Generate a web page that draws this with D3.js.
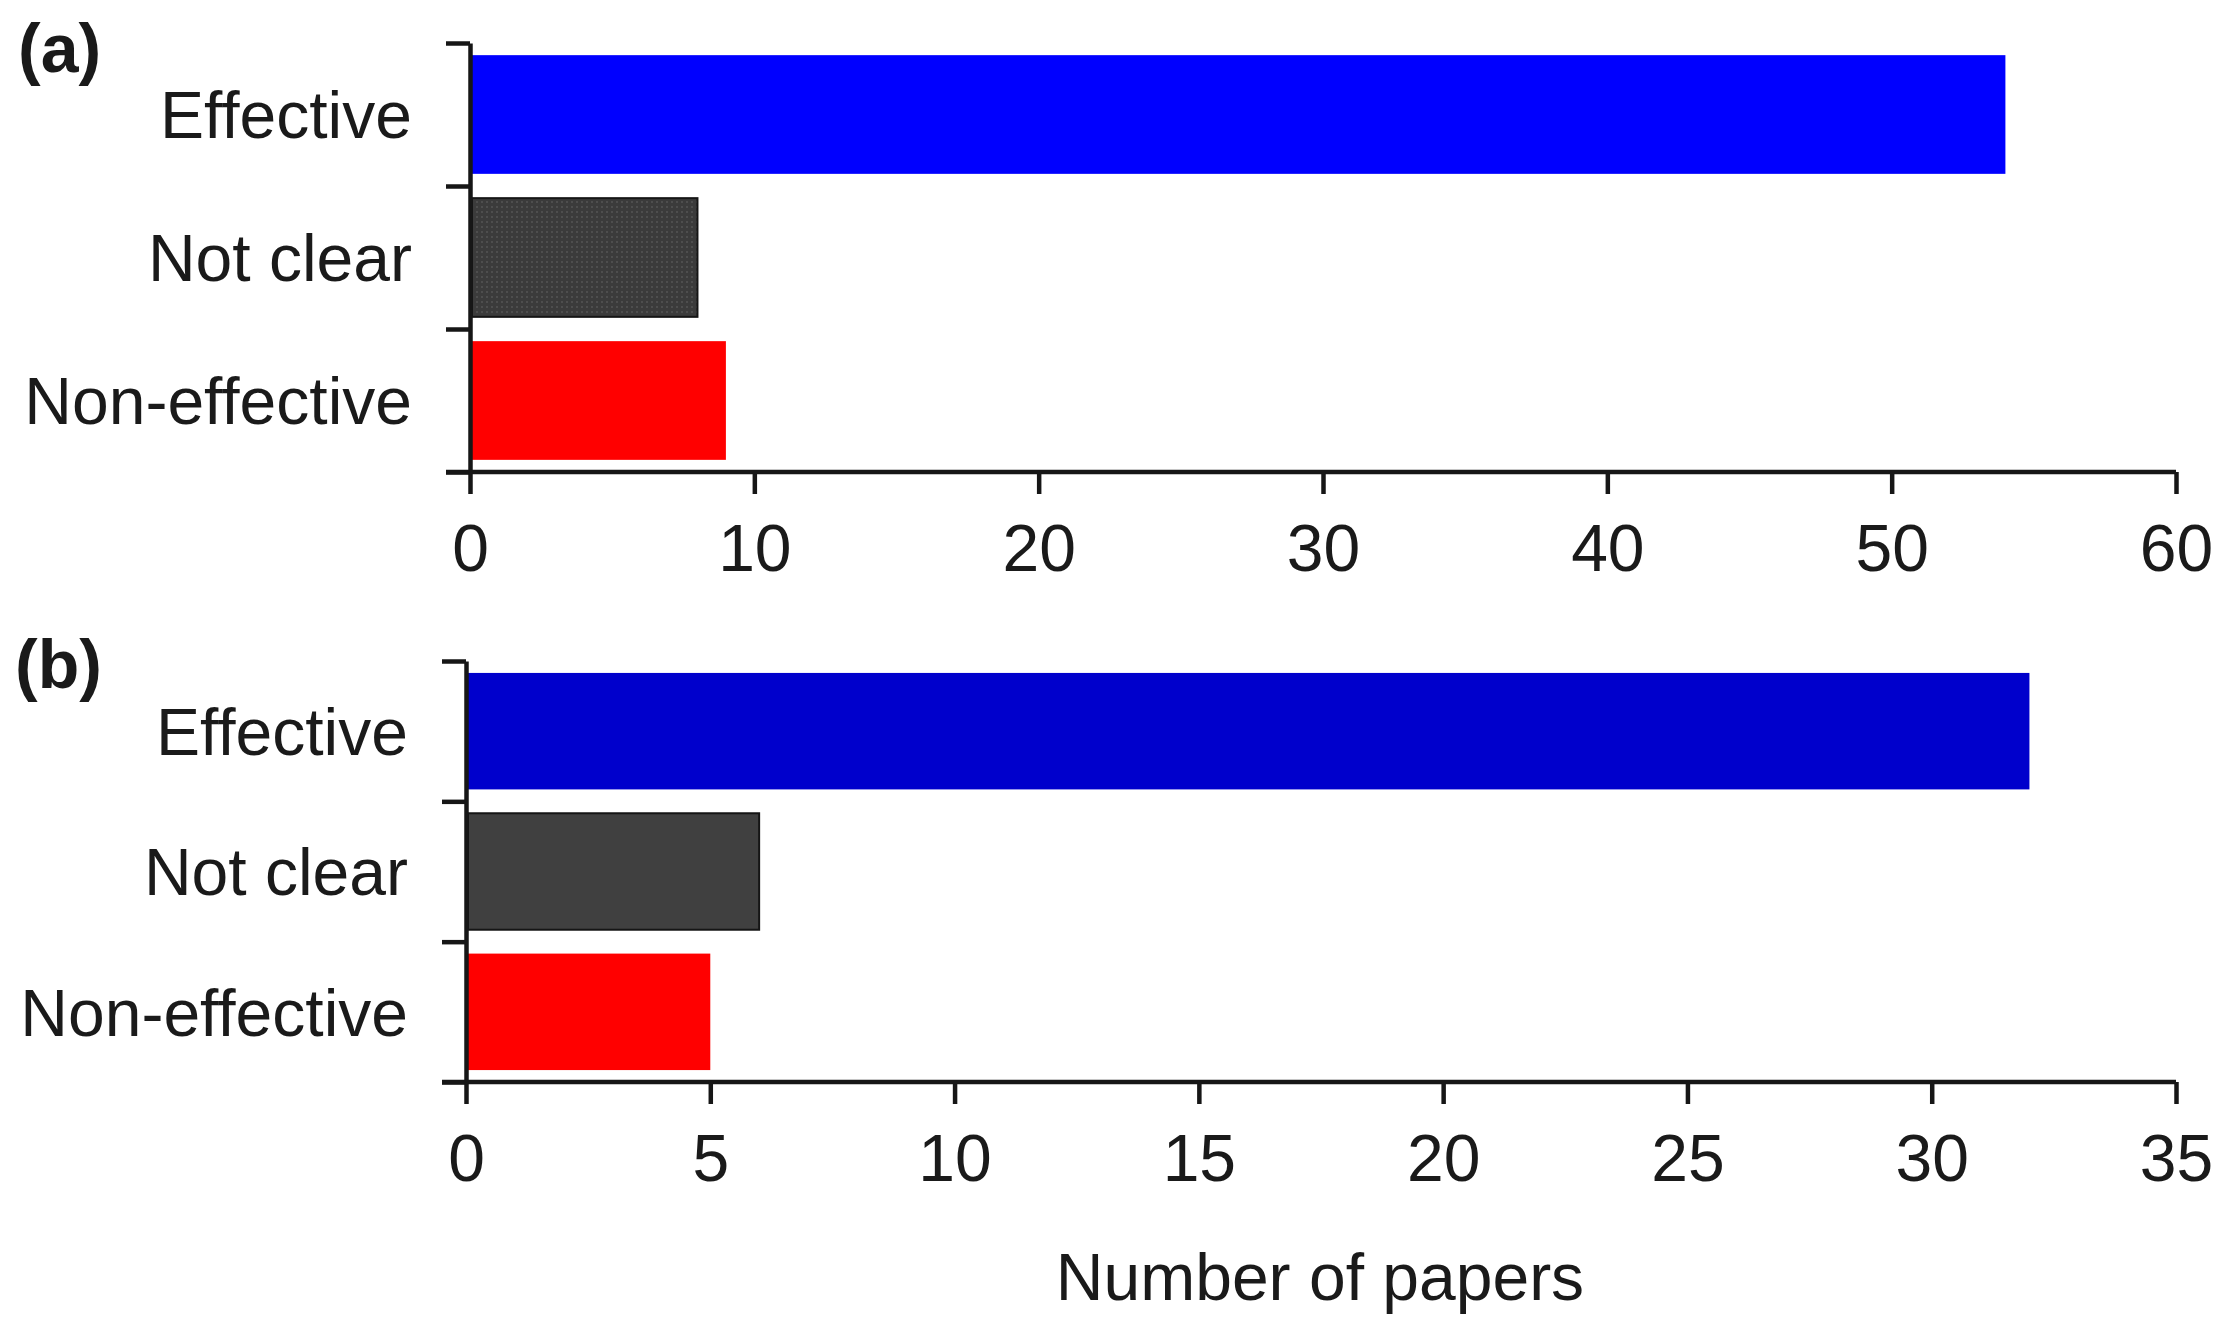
<!DOCTYPE html>
<html>
<head>
<meta charset="utf-8">
<script src="https://cdn.jsdelivr.net/npm/d3@7"></script>
<style>
  html, body { margin: 0; padding: 0; background: #ffffff; }
  svg text { font-family: Arial, 'Liberation Sans', sans-serif; fill: #1a1a1a; }
</style>
</head>
<body>
<svg id="svg_chart" width="2220" height="1335"></svg>
<script>
// data
const categories = ['Effective', 'Not clear', 'Non-effective'];
const values_a = [54, 8, 9];
const values_b = [32, 6, 5];
const ticks_a = [0, 10, 20, 30, 40, 50, 60];
const ticks_b = [0, 5, 10, 15, 20, 25, 30, 35];
const colors_a = ['#0000ff', 'url(#dots)', '#ff0000'];
const colors_b = ['#0000cc', '#404040', '#ff0000'];

const svg = d3.select('svg#svg_chart');
const font_size = 66;
const axis_color = '#161616';

// fine dotted texture of the grey bar in panel (a)
svg.append('defs')
  .append('pattern')
  .attr('id', 'dots')
  .attr('patternUnits', 'userSpaceOnUse')
  .attr('width', 5)
  .attr('height', 5)
  .call((p) => {
    p.append('rect').attr('width', 5).attr('height', 5).attr('fill', '#3b3b3b');
    p.append('rect').attr('x', 1).attr('y', 1).attr('width', 2).attr('height', 2).attr('fill', '#4e4e4e');
  });

const panels = [
  { letter: '(a)', values: values_a, ticks: ticks_a, colors: colors_a,
    top: 43, bottom: 472, left: 470, right: 2176, letter_x: 18, letter_y: 72 },
  { letter: '(b)', values: values_b, ticks: ticks_b, colors: colors_b,
    top: 661, bottom: 1082, left: 466, right: 2176, letter_x: 15, letter_y: 688 },
];

function drawPanel(p) {
  const g = svg.append('g');
  const x = d3.scaleLinear()
    .domain([0, d3.max(p.ticks)])
    .range([p.left, p.right]);
  const y = d3.scaleBand()
    .domain(categories)
    .range([p.top, p.bottom])
    .paddingInner(0.17)
    .paddingOuter(0.085);
  const y_edges = d3.scaleLinear()
    .domain([0, categories.length])
    .range([p.top, p.bottom]);

  // bars
  g.append('g')
    .selectAll('rect')
    .data(p.values)
    .enter()
    .append('rect')
    .attr('x', x(0) + 2)
    .attr('y', (d, i) => y(categories[i]))
    .attr('width', d => x(d) - x(0) - 2)
    .attr('height', y.bandwidth())
    .attr('fill', (d, i) => p.colors[i])
    .attr('stroke', (d, i) => (i === 1 ? '#151515' : 'none'))
    .attr('stroke-width', 2);

  // y axis: ticks on category boundaries
  const y_axis = g.append('g')
    .attr('transform', `translate(${p.left},0)`)
    .call(d3.axisLeft(y_edges)
      .tickValues(d3.range(categories.length + 1))
      .tickSize(24)
      .tickSizeOuter(0)
      .tickFormat(''));
  y_axis.selectAll('line, path').attr('stroke', axis_color).attr('stroke-width', 4.5);

  // category labels
  const lab_axis = g.append('g')
    .attr('transform', `translate(${p.left},0)`)
    .call(d3.axisLeft(y).tickSize(0).tickPadding(58));
  lab_axis.select('.domain').remove();
  lab_axis.selectAll('text')
    .attr('font-size', font_size)
    .attr('font-family', 'Arial, \'Liberation Sans\', sans-serif')
    .attr('fill', '#1a1a1a')
    .attr('dy', '0.36em');

  // x axis
  const x_axis = g.append('g')
    .attr('transform', `translate(0,${p.bottom})`)
    .call(d3.axisBottom(x)
      .tickValues(p.ticks)
      .tickSize(22)
      .tickSizeOuter(0)
      .tickPadding(30));
  x_axis.select('.domain').attr('d', `M${p.left - 24},0H${p.right}`);
  x_axis.selectAll('line, path').attr('stroke', axis_color).attr('stroke-width', 4.5);
  x_axis.selectAll('text')
    .attr('font-size', font_size)
    .attr('font-family', 'Arial, \'Liberation Sans\', sans-serif')
    .attr('fill', '#1a1a1a');

  // panel letter
  svg.append('text')
    .attr('x', p.letter_x)
    .attr('y', p.letter_y)
    .attr('font-size', 68)
    .attr('font-weight', 'bold')
    .text(p.letter);
}

panels.forEach(drawPanel);

svg.append('text')
  .attr('x', 1320)
  .attr('y', 1300)
  .attr('text-anchor', 'middle')
  .attr('font-size', font_size)
  .text('Number of papers');
</script>
</body>
</html>
